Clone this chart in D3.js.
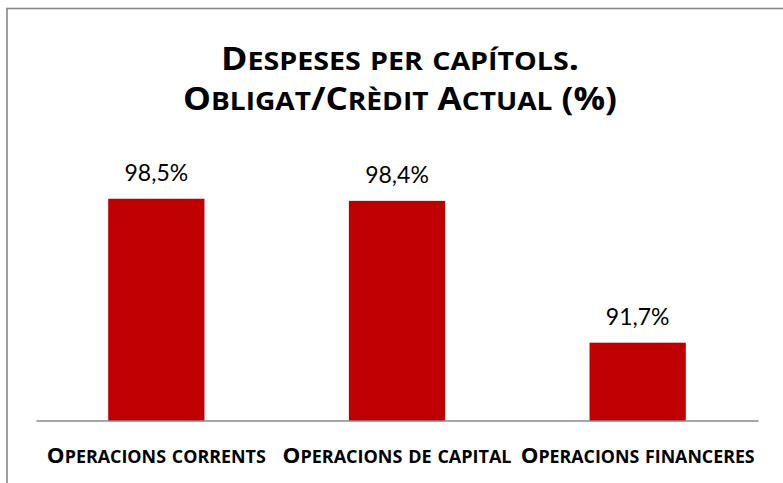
<!DOCTYPE html>
<html lang="ca">
<head>
<meta charset="UTF-8">
<title>Despeses per capítols</title>
<script src="https://cdn.jsdelivr.net/npm/d3@7"></script>
<style>
  body { margin: 0; background: #fff; }
  svg { display: block; }
  text { font-family: Lato, "Open Sans", sans-serif; fill: #000; }
  .title, .cat { font-family: "Open Sans", sans-serif; font-weight: bold; }
  .val { font-size: 23px; }
</style>
</head>
<body>
<svg id="main" width="783" height="483"></svg>
<script>
// data
const categories = ["Operacions corrents", "Operacions de capital", "Operacions financeres"];
const values = [98.5, 98.4, 91.7];
const titleLines = ["Despeses per capítols.", "Obligat/Crèdit Actual (%)"];
const yDomain = [88, 100];

const plot = { left: 36, right: 758, top: 167, bottom: 421 };
// widths the text runs over in the original (Calibri is wider than what we have)
const titleWidths = [358, 434];
const catWidths = [219, 229, 234];

const svg = d3.select("#main");

// chart frame (runs past right/bottom edge like the original)
svg.append("rect")
    .attr("x", 7).attr("y", 8.5)
    .attr("width", 820).attr("height", 520)
    .attr("fill", "#fff")
    .attr("stroke", "#878787")
    .attr("stroke-width", 1.6);

const x = d3.scaleBand()
    .domain(categories)
    .range([plot.left, plot.right])
    .paddingInner(0.6)
    .paddingOuter(0.3);

const y = d3.scaleLinear()
    .domain(yDomain)
    .range([plot.bottom, plot.top]);

// small caps by hand: capitals stay big, lower case -> smaller capitals
function smallCaps(sel, str, size, ratio) {
    const parts = [];
    for (const ch of str) {
        const small = ch !== ch.toUpperCase();
        const last = parts[parts.length - 1];
        if (last && last.small === small) last.t += ch;
        else parts.push({ t: ch, small });
    }
    sel.selectAll("tspan").data(parts).join("tspan")
        .attr("font-size", d => d.small ? size * ratio : size)
        .text(d => d.t.toUpperCase());
}

// title
titleLines.forEach((line, i) => {
    svg.append("text")
        .attr("class", "title")
        .attr("x", 400)
        .attr("y", 70 + i * 40)
        .attr("text-anchor", "middle")
        .attr("textLength", titleWidths[i])
        .attr("lengthAdjust", "spacingAndGlyphs")
        .call(smallCaps, line, 32, 0.8);
});

// bars
svg.append("g")
    .selectAll("rect")
    .data(values)
    .join("rect")
    .attr("x", (d, i) => x(categories[i]))
    .attr("width", x.bandwidth())
    .attr("y", d => y(d))
    .attr("height", d => y(yDomain[0]) - y(d))
    .attr("fill", "#C00000");

// value labels
const fmt = d => d3.format(".1f")(d).replace(".", ",") + "%";
svg.append("g")
    .selectAll("text")
    .data(values)
    .join("text")
    .attr("class", "val")
    .attr("x", (d, i) => x(categories[i]) + x.bandwidth() / 2)
    .attr("y", d => y(d) - 18)
    .attr("text-anchor", "middle")
    .text(fmt);

// x axis
const xAxis = svg.append("g")
    .attr("transform", `translate(0,${plot.bottom - 0.5})`)
    .call(d3.axisBottom(x).tickSize(0).tickSizeOuter(0).tickPadding(0));
xAxis.select(".domain")
    .attr("stroke", "#898989")
    .attr("stroke-width", 1.3);
xAxis.selectAll(".tick text").remove();
xAxis.selectAll(".tick").append("text")
    .attr("class", "cat")
    .attr("y", 42)
    .attr("text-anchor", "middle")
    .attr("textLength", (d, i) => catWidths[i])
    .attr("lengthAdjust", "spacingAndGlyphs")
    .each(function(d) { d3.select(this).call(smallCaps, d, 22, 0.8); });
</script>
</body>
</html>
